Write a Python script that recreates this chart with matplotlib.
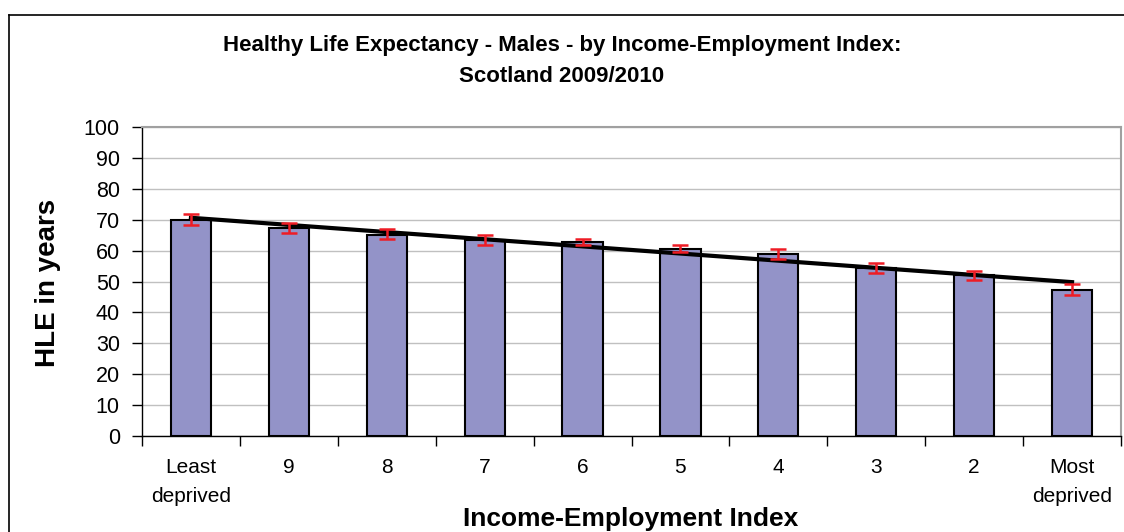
import numpy as np
import matplotlib
matplotlib.use("Agg")
import matplotlib.pyplot as plt
from matplotlib.lines import Line2D

plt.rcParams['font.family'] = ['Liberation Sans', 'DejaVu Sans']

categories = ["Least\ndeprived", "9", "8", "7", "6", "5", "4", "3", "2", "Most\ndeprived"]
hle = [70.0, 67.4, 65.2, 63.5, 62.8, 60.6, 58.8, 54.5, 52.0, 47.3]
err_low = [1.8, 1.6, 1.5, 1.6, 1.0, 1.1, 1.4, 1.7, 1.6, 1.6]
err_high = [1.9, 1.6, 1.7, 1.6, 1.1, 1.2, 1.6, 1.6, 1.5, 1.8]
yticks = list(range(0, 101, 10))

fig = plt.figure(figsize=(11.24, 5.32), dpi=100)
ax = fig.add_axes([142/1124, 1-436/532, (1121-142)/1124, (436-127)/532])

x = np.arange(len(categories))
ax.set_axisbelow(True)
ax.yaxis.grid(True, color='#c0c0c0', linewidth=1.0)
ax.bar(x, hle, width=0.41, color='#9393c8', edgecolor='black', linewidth=1.5, zorder=2)
ax.errorbar(x, hle, yerr=[err_low, err_high], fmt='none', ecolor='#ee1c25',
            elinewidth=1.8, capsize=6, capthick=1.8, zorder=4)

coef = np.polyfit(x, hle, 1)
ax.plot([x[0], x[-1]], np.polyval(coef, [x[0], x[-1]]), color='black', linewidth=3, zorder=3)

ax.set_xlim(-0.5, len(categories) - 0.5)
ax.set_ylim(0, 100)
ax.set_yticks(yticks)
ax.tick_params(axis='y', direction='out', length=7, width=1, labelsize=15.5, pad=9)
ax.set_xticks(x)
ax.set_xticklabels(categories, fontsize=15, linespacing=1.68)
ax.set_xticks(np.arange(-0.5, len(categories), 1.0), minor=True)
ax.tick_params(axis='x', which='major', length=0, pad=16)
ax.tick_params(axis='x', which='minor', direction='out', length=7, width=1)

for s in ['left', 'bottom']:
    ax.spines[s].set_color('black')
    ax.spines[s].set_linewidth(1.0)
for s in ['top', 'right']:
    ax.spines[s].set_color('#a0a0a0')
    ax.spines[s].set_linewidth(1.5)

fig.text(48/1124, 1-283/532, "HLE in years", rotation=90, ha='center', va='center',
         fontsize=20, fontweight='bold')
fig.text(631/1124, 1-519/532, "Income-Employment Index", ha='center', va='center',
         fontsize=19, fontweight='bold')
fig.text(562/1124, 1-46/532, "Healthy Life Expectancy - Males - by Income-Employment Index:",
         ha='center', va='center', fontsize=16, fontweight='bold')
fig.text(562/1124, 1-77/532, "Scotland 2009/2010", ha='center', va='center',
         fontsize=16, fontweight='bold')

# outer chart border (partially cropped in reference)
fig.add_artist(Line2D([8.5/1124, 8.5/1124], [0, 1-15/532], color='black', linewidth=1.2, transform=fig.transFigure))
fig.add_artist(Line2D([8.5/1124, 1], [1-15/532, 1-15/532], color='black', linewidth=1.2, transform=fig.transFigure))

fig.savefig("out.png", dpi=100)
